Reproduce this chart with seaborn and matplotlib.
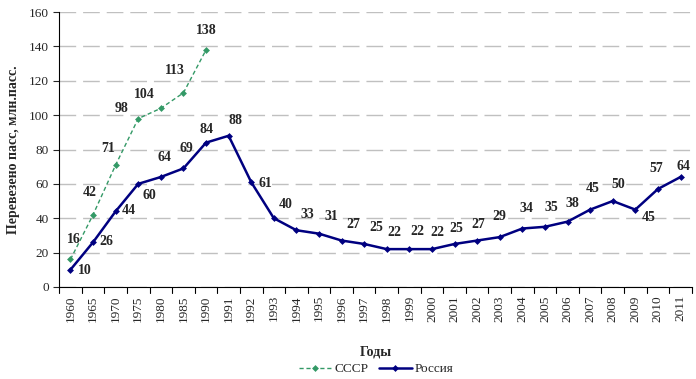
import numpy as np
import pandas as pd
import seaborn as sns
import matplotlib.pyplot as plt

years = ["1960", "1965", "1970", "1975", "1980", "1985", "1990", "1991", "1992",
         "1993", "1994", "1995", "1996", "1997", "1998", "1999", "2000", "2001",
         "2002", "2003", "2004", "2005", "2006", "2007", "2008", "2009", "2010", "2011"]
russia = [10, 26, 44, 60, 64, 69, 84, 88, 61, 40, 33, 31, 27, 25, 22, 22, 22, 25,
          27, 29, 34, 35, 38, 45, 50, 45, 57, 64]
ussr = [16, 42, 71, 98, 104, 113, 138]

# label offsets in pixels (dx, dy), dy positive = up
russia_off = [(14, -1), (13, 1), (13, 1), (11, -12), (4, 19), (3, 20), (0, 13), (7, 15),
              (14, -1), (12, 14), (11, 16), (12, 17), (12, 16), (12, 16), (8, 17), (8, 18),
              (5, 17), (2, 15), (1, 16), (0, 21), (4, 20), (6, 19), (5, 18), (3, 21),
              (6, 17), (13, -8), (-2, 21), (3, 10)]
ussr_off = [(3, 20), (-3, 22), (-8, 16), (-17, 10), (-17, 14), (-9, 22), (0, 19)]

sns.set_style("white")
plt.rcParams["font.family"] = ["Liberation Serif", "DejaVu Serif"]

df = pd.DataFrame({"pos": np.arange(len(years)), "year": years, "Россия": russia})
df_u = pd.DataFrame({"pos": np.arange(len(ussr)), "СССР": ussr})

fig = plt.figure(figsize=(6.96, 3.79), dpi=100)
ax = fig.add_axes([0.085, 0.243, 0.909, 0.725])

sns.lineplot(data=df_u, x="pos", y="СССР", ax=ax, color="#339966", lw=1,
             linestyle=(0, (3, 2)), marker="D", markersize=3.5, markeredgewidth=0,
             label="СССР")
sns.lineplot(data=df, x="pos", y="Россия", ax=ax, color="#000080", lw=1.8,
             marker="D", markersize=3.5, markeredgewidth=0, label="Россия")

for i, v in enumerate(russia):
    dx, dy = russia_off[i]
    ax.annotate(str(v), (i, v), xytext=(dx, dy), textcoords="offset pixels",
                ha="center", va="center", fontsize=10, fontweight="bold")
for i, v in enumerate(ussr):
    dx, dy = ussr_off[i]
    ax.annotate(str(v), (i, v), xytext=(dx, dy), textcoords="offset pixels",
                ha="center", va="center", fontsize=10, fontweight="bold")

ax.set_xlim(-0.5, len(years) - 0.5)
ax.set_ylim(0, 160)
ax.set_yticks(range(0, 161, 20))
ax.set_xticks(range(len(years)))
ax.set_xticklabels(years, rotation=90, fontsize=9.5)
ax.tick_params(axis="y", labelsize=9.5, length=4, direction="out", left=True)
ax.tick_params(axis="x", length=0, pad=6)
# category separator ticks below the axis
for t in np.arange(-0.5, len(years), 1):
    ax.plot([t, t], [0, -3.5], color="black", lw=0.8, clip_on=False)
ax.yaxis.grid(True, color="#c0c0c0", linestyle=(0, (12, 5)), lw=1)
ax.set_axisbelow(True)
for s in ["top", "right"]:
    ax.spines[s].set_visible(False)
ax.spines["left"].set_color("black")
ax.spines["bottom"].set_color("black")

ax.set_ylabel("Перевезено пасс, млн.пасс.", fontsize=10, fontweight="bold", labelpad=6)
ax.set_xlabel("")
fig.text(0.54, 0.071, "Годы", ha="center", va="center", fontsize=10, fontweight="bold")

ax.get_legend().remove()
h, l = ax.get_legend_handles_labels()
fig.legend(h, l, loc="center", bbox_to_anchor=(0.54, 0.026), ncol=2, frameon=False,
           fontsize=9.5, handlelength=2.5, columnspacing=0.8, handletextpad=0.2)

fig.savefig("out.png", dpi=100)
